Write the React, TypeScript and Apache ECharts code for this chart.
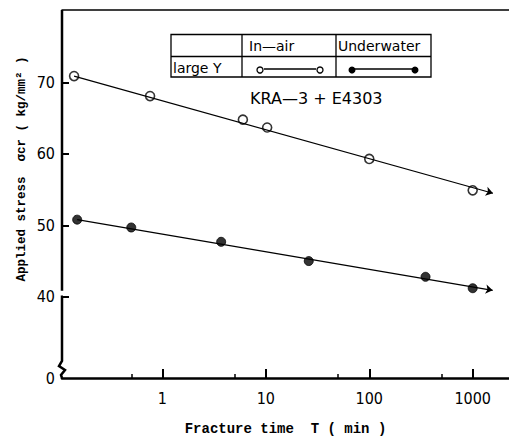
import React, { useEffect, useRef } from "react";
import * as echarts from "echarts";

// ---- data ----
const inAirTime = [0.14, 0.76, 6, 10.3, 100, 1000];
const inAirStress = [70.9, 68.1, 64.8, 63.7, 59.3, 54.9];
const underwaterTime = [0.15, 0.5, 3.7, 26, 350, 1000];
const underwaterStress = [50.8, 49.7, 47.7, 45.0, 42.8, 41.2];

// fitted lines (start point, arrow end)
const inAirFit = [[0.14, 70.9], [1570, 54.5]];
const underwaterFit = [[0.15, 50.8], [1560, 40.9]];

const xMajorTicks = [1, 10, 100, 1000];
const xMinorTicks = [0.5, 5, 50, 500];
const yTicks = [40, 50, 60, 70];

const X_MIN = 0.107;
const X_MAX = 2244;
const Y_MIN = 28.63;
const Y_MAX = 80.15;

const NUM_FONT = "'Liberation Sans Narrow', 'DejaVu Sans Condensed', 'Liberation Sans', sans-serif";
const TITLE_FONT = "'Liberation Mono', 'DejaVu Sans Mono', monospace";
const TABLE_FONT = "'DejaVu Sans', sans-serif";

export default function App() {
  const ref = useRef<HTMLDivElement>(null);

  useEffect(() => {
    if (!ref.current) return;
    const chart = echarts.init(ref.current, undefined, { renderer: "svg" });

    const pts = (t: number[], s: number[]) => t.map((v, i) => [v, s[i]]);

    const option: any = {
      animation: false,
      backgroundColor: "#fff",
      grid: { left: 62, right: 0, top: 10, bottom: 59, containLabel: false },
      xAxis: [
        {
          type: "log",
          logBase: 10,
          min: X_MIN,
          max: X_MAX,
          position: "bottom",
          axisLine: { show: true, onZero: false, lineStyle: { color: "#000", width: 2.5 } },
          axisTick: {
            show: true,
            inside: true,
            length: 9,
            customValues: xMajorTicks,
            lineStyle: { color: "#000", width: 2 },
          },
          axisLabel: {
            show: true,
            customValues: xMajorTicks,
            margin: 12,
            color: "#000",
            fontSize: 16,
            fontFamily: NUM_FONT,
            formatter: (v: number) => String(Math.round(v)),
          },
          splitLine: { show: false },
          minorTick: { show: false },
          name: "Fracture time  T ( min )",
          nameLocation: "middle",
          nameGap: 44,
          nameTextStyle: {
            color: "#000",
            fontSize: 14,
            fontWeight: "bold",
            fontFamily: TITLE_FONT,
          },
        },
        {
          type: "log",
          logBase: 10,
          min: X_MIN,
          max: X_MAX,
          position: "bottom",
          axisLine: { show: false },
          axisTick: {
            show: true,
            inside: true,
            length: 4,
            customValues: xMinorTicks,
            lineStyle: { color: "#000", width: 1.5 },
          },
          axisLabel: { show: false },
          splitLine: { show: false },
        },
        {
          type: "value",
          min: 0,
          max: 1,
          position: "top",
          axisLine: { show: true, onZero: false, lineStyle: { color: "#000", width: 1.5 } },
          axisTick: { show: false },
          axisLabel: { show: false },
          splitLine: { show: false },
        },
      ],
      yAxis: {
        type: "value",
        min: Y_MIN,
        max: Y_MAX,
        axisLine: { show: false },
        axisTick: {
          show: true,
          inside: true,
          length: 7,
          customValues: yTicks,
          lineStyle: { color: "#000", width: 2 },
        },
        axisLabel: {
          show: true,
          customValues: [Y_MIN, ...yTicks],
          margin: 7,
          color: "#000",
          fontSize: 16,
          fontFamily: NUM_FONT,
          formatter: (v: number) => (v < 35 ? "0" : String(Math.round(v))),
        },
        splitLine: { show: false },
      },
      series: [
        {
          type: "line",
          data: [],
          z: 1,
          markLine: {
            silent: true,
            symbol: ["none", "arrow"],
            symbolSize: 7,
            label: { show: false },
            lineStyle: { color: "#000", width: 1.2, type: "solid" },
            data: [
              [{ coord: inAirFit[0] }, { coord: inAirFit[1] }],
              [{ coord: underwaterFit[0] }, { coord: underwaterFit[1] }],
            ],
          },
        },
        {
          name: "In-air",
          type: "scatter",
          z: 3,
          data: pts(inAirTime, inAirStress),
          symbol: "circle",
          symbolSize: 9,
          itemStyle: { color: "#fff", borderColor: "#000", borderWidth: 1.6 },
        },
        {
          name: "Underwater",
          type: "scatter",
          z: 3,
          data: pts(underwaterTime, underwaterStress),
          symbol: "circle",
          symbolSize: 9,
          itemStyle: { color: "#000", borderColor: "#000", borderWidth: 1 },
        },
      ],
    };

    chart.setOption(option);

    const yTop = chart.convertToPixel({ yAxisIndex: 0 }, Y_MAX) as number;
    const y40 = chart.convertToPixel({ yAxisIndex: 0 }, 40) as number;
    const yBot = chart.convertToPixel({ yAxisIndex: 0 }, Y_MIN) as number;
    const ax = chart.convertToPixel({ xAxisIndex: 0 }, X_MIN) as number;

    const axisStyle = { stroke: "#000", lineWidth: 2.5, fill: null };
    const tl = { stroke: "#000", lineWidth: 1.3 };

    // legend table geometry
    const L = 171, R = 431, T = 34.5, M = 56.5, B = 77;
    const c1 = 242, c2 = 336;
    const rowY = 70;

    chart.setOption({
      graphic: [
        // broken y axis
        { type: "line", shape: { x1: ax, y1: yTop, x2: ax, y2: y40 - 6 }, style: axisStyle, silent: true },
        {
          type: "polyline",
          shape: {
            points: [
              [ax + 1, y40],
              [ax, y40],
              [ax, yBot - 17],
              [ax - 3, yBot - 12],
              [ax + 3, yBot - 8],
              [ax - 1, yBot - 3],
              [ax, yBot],
            ],
          },
          style: axisStyle,
          silent: true,
        },
        // y axis title
        {
          type: "text",
          x: 22,
          y: 169,
          rotation: Math.PI / 2,
          silent: true,
          style: {
            text: "Applied stress  σcr ( kg/mm² )",
            align: "center",
            verticalAlign: "middle",
            fill: "#000",
            fontSize: 12.5,
            fontWeight: "bold",
            fontFamily: TITLE_FONT,
          },
        },
        // legend table
        { type: "rect", shape: { x: L, y: T, width: R - L, height: B - T }, style: { ...tl, fill: "#fff" }, silent: true },
        { type: "line", shape: { x1: L, y1: M, x2: R, y2: M }, style: tl, silent: true },
        { type: "line", shape: { x1: c1, y1: T, x2: c1, y2: B }, style: tl, silent: true },
        { type: "line", shape: { x1: c2, y1: T, x2: c2, y2: B }, style: tl, silent: true },
        {
          type: "text", x: 249, y: 46, silent: true,
          style: { text: "In—air", verticalAlign: "middle", fill: "#000", fontSize: 14, fontFamily: TABLE_FONT },
        },
        {
          type: "text", x: 338, y: 46, silent: true,
          style: { text: "Underwater", verticalAlign: "middle", fill: "#000", fontSize: 14, fontFamily: TABLE_FONT },
        },
        {
          type: "text", x: 173, y: 68, silent: true,
          style: { text: "large Y", verticalAlign: "middle", fill: "#000", fontSize: 14, fontFamily: TABLE_FONT },
        },
        { type: "line", shape: { x1: 264, y1: rowY - 1, x2: 316, y2: rowY - 1 }, style: tl, silent: true },
        { type: "circle", shape: { cx: 260, cy: rowY, r: 3 }, style: { fill: "#fff", stroke: "#000", lineWidth: 1.3 }, silent: true },
        { type: "circle", shape: { cx: 320, cy: rowY, r: 3 }, style: { fill: "#fff", stroke: "#000", lineWidth: 1.3 }, silent: true },
        { type: "line", shape: { x1: 352, y1: rowY - 1, x2: 414, y2: rowY - 1 }, style: tl, silent: true },
        { type: "circle", shape: { cx: 352, cy: rowY, r: 3.5 }, style: { fill: "#000" }, silent: true },
        { type: "circle", shape: { cx: 415, cy: rowY, r: 3.5 }, style: { fill: "#000" }, silent: true },
        // material label
        {
          type: "text", x: 250, y: 98, silent: true,
          style: { text: "KRA—3 + E4303", verticalAlign: "middle", fill: "#000", fontSize: 16, fontFamily: TABLE_FONT },
        },
      ],
    });

    return () => chart.dispose();
  }, []);

  return (
    <div
      ref={ref}
      style={{ position: "fixed", left: 0, top: 0, width: 509, height: 441, background: "#fff" }}
    />
  );
}
